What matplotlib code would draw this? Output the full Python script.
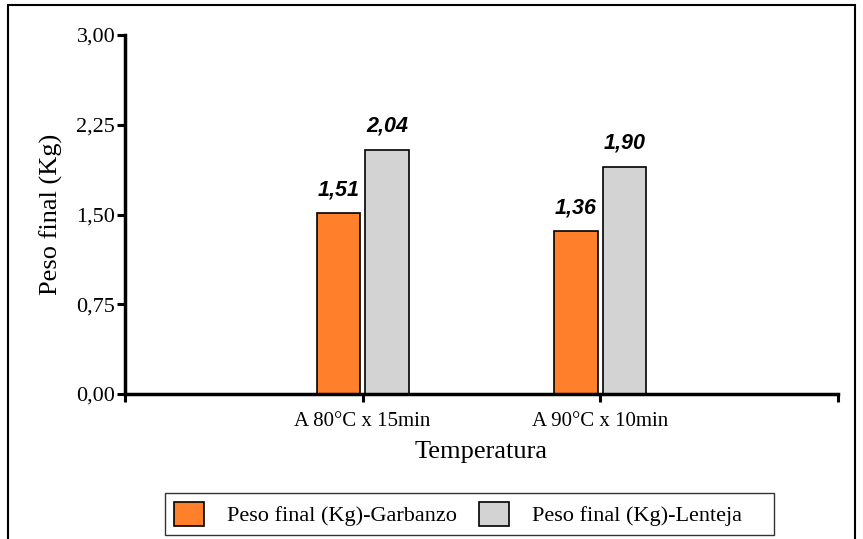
import numpy as np
import matplotlib.pyplot as plt
from matplotlib.patches import Rectangle

# === DATA ===
categories = ['A 80°C x 15min', 'A 90°C x 10min']
garbanzo = [1.51, 1.36]
lenteja = [2.04, 1.90]
series_names = ['Peso final (Kg)-Garbanzo', 'Peso final (Kg)-Lenteja']
yticks = [0.00, 0.75, 1.50, 2.25, 3.00]

serif = ['Liberation Serif', 'DejaVu Serif']
sans = ['Liberation Sans', 'DejaVu Sans']
orange = '#FF7F2A'
gray = '#D3D3D3'

fig = plt.figure(figsize=(8.63, 5.39), dpi=100)
ax = fig.add_axes([125 / 863, 1 - 394 / 539, (838 - 125) / 863, (394 - 35) / 539])

x = np.arange(1, len(categories) + 1)
w = 0.184
off = 0.102
b1 = ax.bar(x - off, garbanzo, w, color=orange, edgecolor='black', linewidth=1.2)
b2 = ax.bar(x + off, lenteja, w, color=gray, edgecolor='black', linewidth=1.2)

for bars, vals in [(b1, garbanzo), (b2, lenteja)]:
    for r, v in zip(bars, vals):
        ax.annotate(f'{v:.2f}'.replace('.', ','), (r.get_x() + r.get_width() / 2, v),
                    xytext=(0, 9.5), textcoords='offset points', ha='center', va='bottom',
                    fontsize=15.5, fontweight='bold', fontstyle='italic', family=sans)

ax.set_xlim(0, 3)
ax.set_ylim(0, 3)
ax.set_xticks([0, 1, 2, 3])
ax.set_xticklabels([''] + categories + [''], family=serif, fontsize=15)
ax.set_yticks(yticks)
ax.set_yticklabels([f'{t:.2f}'.replace('.', ',') for t in yticks], family=serif, fontsize=16)
ax.tick_params(axis='both', direction='out', width=2.2, length=6)
ax.tick_params(axis='x', pad=7)
ax.tick_params(axis='y', pad=1)

for s in ['top', 'right']:
    ax.spines[s].set_visible(False)
for s in ['left', 'bottom']:
    ax.spines[s].set_linewidth(2.5)

ax.set_ylabel('Peso final (Kg)', family=serif, fontsize=19, labelpad=10)
ax.set_xlabel('Temperatura', family=serif, fontsize=19, labelpad=7)

# legend box has extra room on the right in the original
fig.legend([b1, b2], [series_names[0], series_names[1] + '    '],
           loc='center', bbox_to_anchor=(469.5 / 863, 1 - 514 / 539), ncol=2,
           prop={'family': serif, 'size': 16}, frameon=True, fancybox=False,
           edgecolor='black', handlelength=1.35, handleheight=1.3, columnspacing=1.0,
           borderpad=0.4, handletextpad=1.04)

# outer frame of the figure
fig.patches.append(Rectangle((8 / 863, -0.05), (855 - 8) / 863, 1.05 - 5 / 539,
                             transform=fig.transFigure, fill=False,
                             edgecolor='black', linewidth=1.5))

fig.savefig('out.png', dpi=100)
